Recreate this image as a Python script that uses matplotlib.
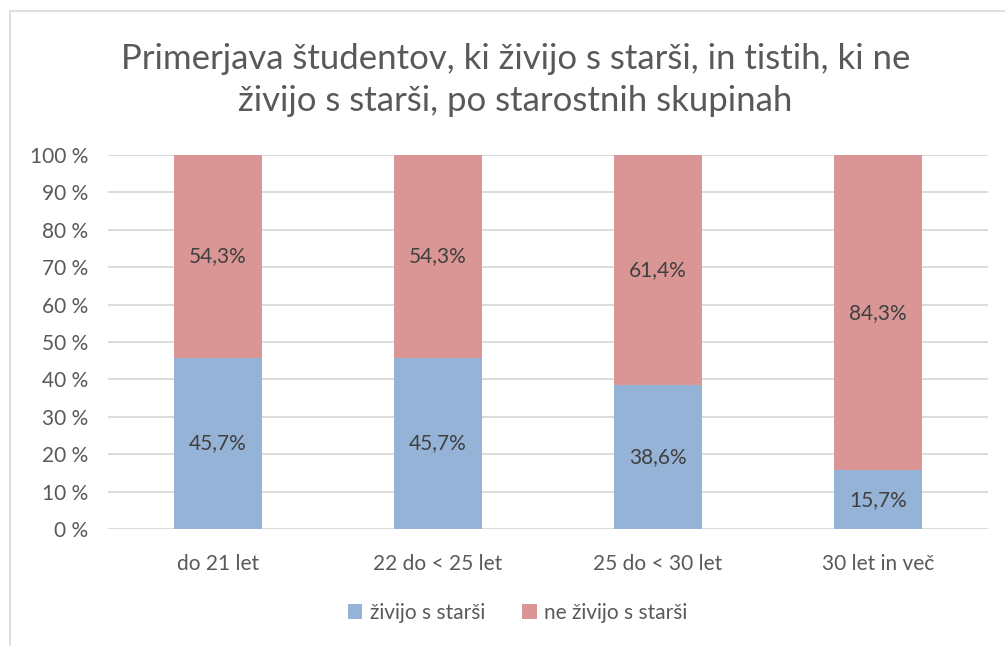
import matplotlib
matplotlib.use("Agg")
import matplotlib.pyplot as plt
from matplotlib.patches import Rectangle
import numpy as np

plt.rcParams['font.family'] = ['Lato', 'DejaVu Sans']

categories = ["do 21 let", "22 do < 25 let", "25 do < 30 let", "30 let in več"]
zivijo = [45.7, 45.7, 38.6, 15.7]
ne_zivijo = [54.3, 54.3, 61.4, 84.3]
series_names = ["živijo s starši", "ne živijo s starši"]
title = "Primerjava študentov, ki živijo s starši, in tistih, ki ne\nživijo s starši, po starostnih skupinah"

c_blue = "#95B3D7"
c_red = "#D99694"
c_text = "#595959"
c_grid = "#D9D9D9"

fig = plt.figure(figsize=(10.05, 6.46), dpi=100)
fig.patches.append(Rectangle((10 / 1005, -0.1), 1.2, 1 - 11 / 646 + 0.1,
                             transform=fig.transFigure, fill=False,
                             edgecolor="#D9D9D9", linewidth=1.2))

ax = fig.add_axes([108 / 1005, 1 - 529 / 646, 880 / 1005, 374 / 646])
x = np.arange(len(categories))
width = 0.4

b1 = ax.bar(x, zivijo, width, color=c_blue, label=series_names[0], zorder=3)
b2 = ax.bar(x, ne_zivijo, width, bottom=zivijo, color=c_red, label=series_names[1], zorder=3)

for xi, v1, v2 in zip(x, zivijo, ne_zivijo):
    ax.text(xi, v1 / 2, f"{v1:.1f}%".replace(".", ","), ha="center", va="center",
            fontsize=15, color="#404040", zorder=4)
    ax.text(xi, v1 + v2 / 2, f"{v2:.1f}%".replace(".", ","), ha="center", va="center",
            fontsize=15, color="#404040", zorder=4)

ax.set_xlim(-0.5, len(categories) - 0.5)
ax.set_ylim(0, 100)
ax.set_yticks(np.arange(0, 101, 10))
ax.set_yticklabels([f"{t} %" for t in range(0, 101, 10)])
ax.set_xticks(x)
ax.set_xticklabels(categories)
ax.tick_params(axis="both", length=0, labelsize=15, colors=c_text)
ax.tick_params(axis="y", pad=14)
ax.tick_params(axis="x", pad=18)
ax.yaxis.grid(True, color=c_grid, linewidth=1.3, zorder=0)
for s in ax.spines.values():
    s.set_visible(False)

fig.text(0.513, 1 - 80 / 646, title, ha="center", va="center", fontsize=25,
         color=c_text, linespacing=1.4)

leg = fig.legend(handles=[b1, b2], labels=series_names, loc="center",
                 bbox_to_anchor=(0.515, 1 - 613 / 646), ncol=2, frameon=False,
                 fontsize=15, handlelength=0.7, handleheight=0.7,
                 handletextpad=0.35, columnspacing=1.8)
for t in leg.get_texts():
    t.set_color(c_text)

fig.savefig("out.png", dpi=100, facecolor="white")
